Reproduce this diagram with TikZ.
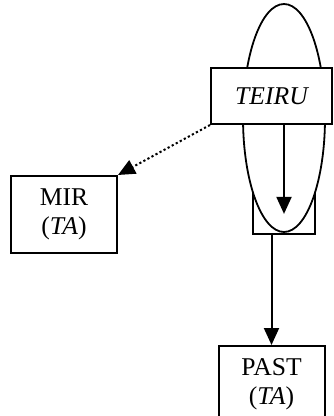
\documentclass[tikz,border=0pt]{standalone}
\usepackage{fontspec}
\setmainfont{Liberation Serif}
\usetikzlibrary{shapes.geometric, arrows.meta, positioning}
\tikzstyle{lexbox} = [rectangle, minimum width=53pt, minimum height=38.5pt, text centered, align=center, draw=black, line width=1pt, fill=white, font=\fontsize{12.8}{14.5}\selectfont]
\tikzstyle{aspect} = [rectangle, minimum width=60.5pt, minimum height=28pt, text centered, draw=black, line width=1pt, fill=white, font=\fontsize{12.8}{14.5}\selectfont\itshape]
\tikzstyle{loopshape} = [ellipse, minimum width=41pt, minimum height=114pt, inner sep=0pt, draw=black, line width=0.9pt, fill=white]
\tikzstyle{holdbox} = [rectangle, minimum width=31pt, minimum height=32pt, draw=black, line width=0.9pt]
\tikzstyle{arrow} = [line width=1pt, -{Triangle[length=8.5pt,width=7.5pt]}]
\tikzstyle{dotarrow} = [arrow, dash pattern=on 1.1pt off 1.2pt]
\begin{document}
\begin{tikzpicture}[x=0.5pt, y=-0.5pt]
    \clip (0,0) rectangle (333,416);

    \node (hold) [holdbox] at (284,202) {};
    \node (loop) [loopshape] at (284,118) {};
    \node (teiru) [aspect] at (271.5,96) {TEIRU};

    \node (mir) [lexbox, below left=25pt and 46pt of teiru] {MIR\\(\textit{TA})};
    \node (past) [lexbox, below=110pt of teiru] {PAST\\(\textit{TA})};

    \draw [arrow] (teiru.south -| loop.center) -- ([yshift=9.5pt]loop.south);
    \draw [dotarrow] (teiru.south west) -- (mir.north east);
    \draw [arrow] (hold.south -| past.north) -- (past.north);
\end{tikzpicture}
\end{document}
